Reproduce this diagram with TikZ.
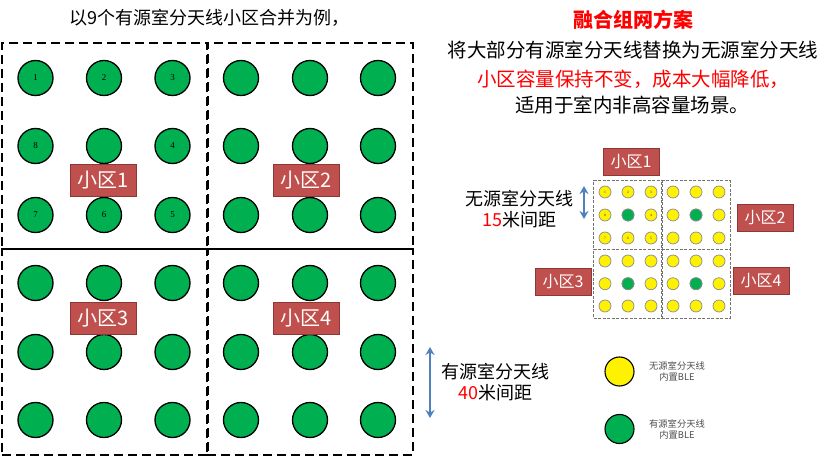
\documentclass[tikz,border=0pt]{standalone}
\usepackage{fontspec}
\setmainfont{Noto Sans CJK SC}
\newfontfamily\numfont{Liberation Serif}
\usetikzlibrary{arrows.meta, positioning}
\definecolor{antgreen}{HTML}{00B050}
\definecolor{cellred}{HTML}{C0504D}
\definecolor{cellline}{HTML}{8C3836}
\definecolor{spanblue}{HTML}{4F81BD}

\begin{document}
\begin{tikzpicture}[x=1pt, y=-1pt,
    % Antennas, big and small
    bigant/.style={circle, draw=black, line width=1.3pt, fill=antgreen, minimum size=35pt, inner sep=0pt},
    smallpas/.style={circle, draw=black!45, line width=0.7pt, fill=yellow, minimum size=12pt, inner sep=0pt},
    smallact/.style={smallpas, fill=antgreen},
    keyant/.style={circle, draw=black, line width=1.1pt, minimum size=29pt, inner sep=0pt},
    % Cells and their tags
    bigcell/.style={draw=black, line width=1.3pt, dash pattern=on 9pt off 5pt, minimum width=206pt, minimum height=206pt, inner sep=0pt},
    smallcell/.style={draw=black!55, line width=0.6pt, dash pattern=on 3pt off 1.5pt, minimum width=68.5pt, minimum height=68.5pt, inner sep=0pt},
    bigtag/.style={draw=cellline, line width=0.8pt, fill=cellred, text=white, minimum width=66pt, minimum height=32pt, inner sep=0pt, font=\fontsize{20}{20}\selectfont},
    smalltag/.style={draw=cellline, line width=0.9pt, fill=cellred, text=white, minimum width=56pt, minimum height=27pt, inner sep=0pt, font=\fontsize{16}{16}\selectfont},
    % Text and spans
    txt/.style={inner sep=0pt, align=center, font=\fontsize{19.5}{26}\selectfont},
    spantxt/.style={inner sep=0pt, align=center, font=\fontsize{18}{21}\selectfont},
    keytxt/.style={inner sep=0pt, align=center, text=black!70, font=\fontsize{9.3}{11}\selectfont},
    span/.style={{Stealth[length=8pt, width=9pt]}-{Stealth[length=8pt, width=9pt]}, draw=spanblue, line width=2.1pt}]

\useasboundingbox (0,0) rectangle (839,457);

% Left side: four big cells
\foreach \nm/\cx/\cy in {a/105/146, b/310/146, c/105/352, d/310/352}
    \node[bigcell] (big-\nm) at (\cx,\cy) {};

% Big antennas, row by row
\foreach \i/\x in {1/35.5, 2/104, 3/172.5, 4/241, 5/310, 6/378}
    \foreach \j/\y in {1/78, 2/146, 3/215, 4/283, 5/352, 6/420}
        \node[bigant] (ant-\i-\j) at (\x,\y) {};

% Numbers of the first cell
\foreach \i/\j/\num in {1/1/1, 2/1/2, 3/1/3, 3/2/4, 3/3/5, 2/3/6, 1/3/7, 1/2/8}
    \node[inner sep=0pt, font=\numfont\fontsize{9}{9}\selectfont] at (ant-\i-\j) {\num};

\node[bigtag] (tag1) at (103,180) {小区1};
\node[bigtag] (tag2) at (306.5,180) {小区2};
\node[bigtag] (tag3) at (103,318) {小区3};
\node[bigtag] (tag4) at (306.5,318) {小区4};

% Right side: four small cells
\foreach \nm/\cx/\cy in {a/628/215, b/696/215, c/628/283.7, d/696/283.7}
    \node[smallcell] (small-\nm) at (\cx,\cy) {};

\foreach \i/\x in {1/605, 2/628, 3/651, 4/673, 5/696, 6/719}
    \foreach \j/\y in {1/192, 2/215, 3/238, 4/261, 5/283.7, 6/306}
        \node[smallpas] (pas-\i-\j) at (\x,\y) {};

% Active ones in the middle of each cell
\foreach \i/\j in {2/2, 5/2, 2/5, 5/5}
    \node[smallact] at (pas-\i-\j) {};

\foreach \i/\j/\num in {1/1/1, 2/1/2, 3/1/3, 3/2/4, 3/3/5, 2/3/6, 1/3/7, 1/2/8}
    \node[inner sep=0pt, text=black!85, font=\numfont\fontsize{3.5}{3.5}\selectfont] at (pas-\i-\j) {\num};

\node[smalltag] (stag1) at (631,161.5) {小区1};
\node[smalltag] (stag2) at (765,217.5) {小区2};
\node[smalltag] (stag3) at (563,282) {小区3};
\node[smalltag] (stag4) at (761,280.5) {小区4};

% Headings
\node[txt, font=\fontsize{18}{26}\selectfont] (head) at (209.5,18) {以9个有源室分天线小区合并为例，};
\node[txt, text=red, font=\bfseries\fontsize{20}{26}\selectfont] (title) at (633,20) {融合组网方案};
\node[txt] (line1) at (633,50) {将大部分有源室分天线替换为无源室分天线};
\node[txt, text=red] (line2) at (633,79) {小区容量保持不变，成本大幅降低，};
\node[txt] (line3) at (632,105) {适用于室内非高容量场景。};

% Spacing marks
\coordinate (s1) at (584,186);
\coordinate (s2) at (584,219);
\draw[span] (s1) -- (s2);
\node[spantxt] (stxt) at (519.5,209) {无源室分天线\\{\color{red}15}米间距};
\coordinate (b1) at (430,347);
\coordinate (b2) at (430,418);
\draw[span] (b1) -- (b2);
\node[spantxt] (btxt) at (495.5,382.5) {有源室分天线\\{\color{red}40}米间距};

% Legend
\node[keyant, fill=yellow] (key1) at (619.5,371.5) {};
\node[keyant, fill=antgreen] (key2) at (619.5,429) {};
\node[keytxt] (ktxt1) at (677,371.5) {无源室分天线\\内置BLE};
\node[keytxt] (ktxt2) at (677,429) {有源室分天线\\内置BLE};

\end{tikzpicture}
\end{document}
